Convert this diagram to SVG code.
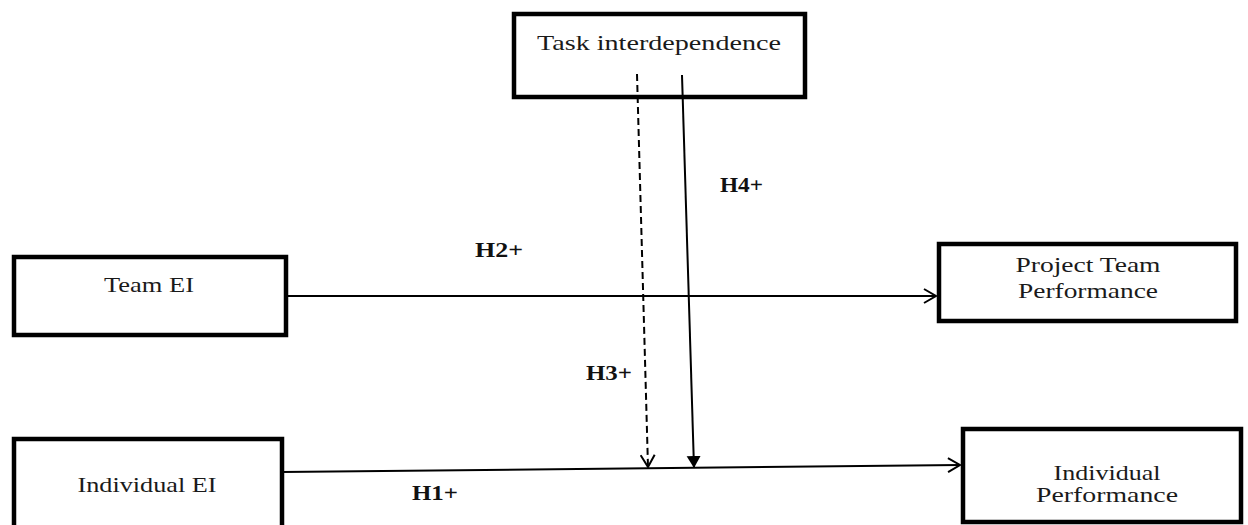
<svg xmlns="http://www.w3.org/2000/svg" width="1248" height="525" viewBox="0 0 1248 525">
<style>
.box{fill:#fff;stroke:#000;stroke-width:4.5}
.t{font-family:"Liberation Serif","DejaVu Serif",serif;font-size:21px;fill:#1a1a1a;text-anchor:middle}
.h{font-family:"Liberation Serif","DejaVu Serif",serif;font-size:20px;font-weight:bold;fill:#111}
.c{stroke:#000;stroke-width:2;fill:none}
</style>
<defs>
<marker id="open" markerWidth="16" markerHeight="16" refX="13" refY="8" orient="auto" markerUnits="userSpaceOnUse">
<path d="M1,1 L13,8 L1,15" fill="none" stroke="#000" stroke-width="2"/>
</marker>
<marker id="solid" markerWidth="16" markerHeight="16" refX="12" refY="7" orient="auto" markerUnits="userSpaceOnUse">
<path d="M0,0 L12,7 L0,14 Z" fill="#000"/>
</marker>
</defs>
<g id="task">
<rect class="box" x="514" y="14" width="291" height="83"/>
<text class="t" x="659" y="50" textLength="244" lengthAdjust="spacingAndGlyphs">Task interdependence</text>
</g>
<g id="teamEI">
<rect class="box" x="14" y="257" width="272" height="78"/>
<text class="t" x="149" y="292" textLength="90" lengthAdjust="spacingAndGlyphs">Team EI</text>
</g>
<g id="projectTeamPerformance">
<rect class="box" x="939" y="244" width="297" height="77"/>
<text class="t" x="1088" y="272" textLength="145" lengthAdjust="spacingAndGlyphs">Project Team</text>
<text class="t" x="1088" y="298" textLength="140" lengthAdjust="spacingAndGlyphs">Performance</text>
</g>
<g id="individualEI">
<rect class="box" x="14" y="439" width="268" height="100"/>
<text class="t" x="147" y="492" textLength="139" lengthAdjust="spacingAndGlyphs">Individual EI</text>
</g>
<g id="individualPerformance">
<rect class="box" x="963" y="429" width="278" height="93"/>
<text class="t" x="1107" y="480" textLength="107" lengthAdjust="spacingAndGlyphs">Individual</text>
<text class="t" x="1107" y="502" textLength="142" lengthAdjust="spacingAndGlyphs">Performance</text>
</g>
<g id="connectors">
<line class="c" x1="286" y1="296" x2="936" y2="296" marker-end="url(#open)"/>
<line class="c" x1="282" y1="472" x2="960" y2="465" marker-end="url(#open)"/>
<line class="c" x1="637" y1="74" x2="648" y2="467" stroke-dasharray="7,4" marker-end="url(#open)"/>
<line class="c" x1="682" y1="75" x2="694" y2="468" marker-end="url(#solid)"/>
</g>
<g id="labels">
<text class="h" x="475" y="257" textLength="48" lengthAdjust="spacingAndGlyphs">H2+</text>
<text class="h" x="720" y="192" textLength="43" lengthAdjust="spacingAndGlyphs">H4+</text>
<text class="h" x="586" y="380" textLength="46" lengthAdjust="spacingAndGlyphs">H3+</text>
<text class="h" x="412" y="500" textLength="46" lengthAdjust="spacingAndGlyphs">H1+</text>
</g>
</svg>
